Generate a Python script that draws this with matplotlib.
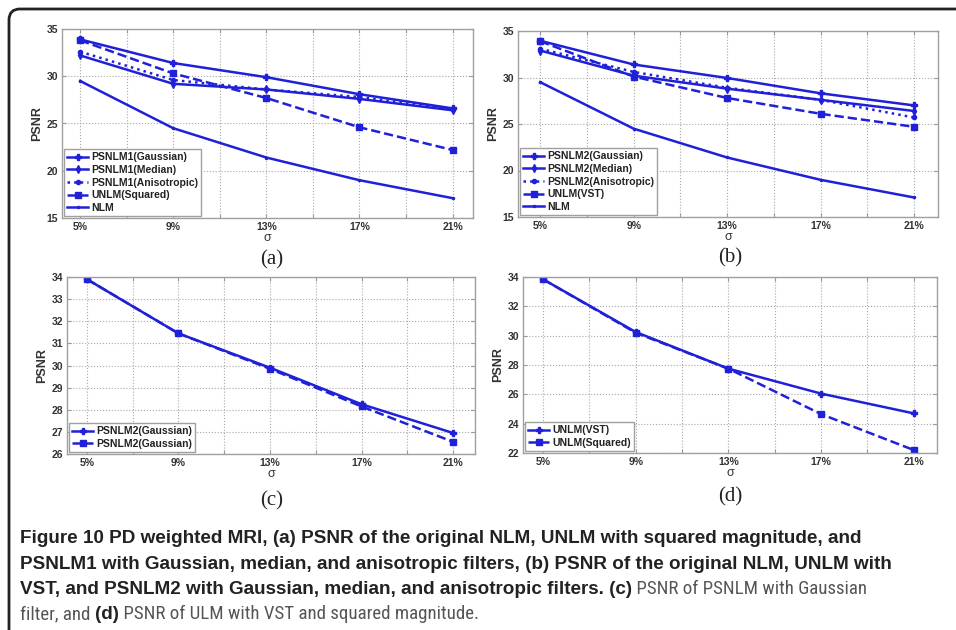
import matplotlib
matplotlib.use("Agg")
import matplotlib.pyplot as plt
from matplotlib.patches import FancyBboxPatch
from matplotlib.transforms import IdentityTransform

plt.rcParams['font.family'] = ['Liberation Sans', 'DejaVu Sans']

# noise levels (sigma) and tick labels
sigma = [5, 9, 13, 17, 21]
sigma_labels = ['5%', '9%', '13%', '17%', '21%']

# (a) PSNLM1 family
a_gauss = [33.9, 31.4, 29.9, 28.1, 26.6]
a_median = [32.2, 29.2, 28.6, 27.6, 26.4]
a_aniso = [32.6, 29.6, 28.6, 27.8, 26.5]
a_squared = [33.8, 30.3, 27.7, 24.6, 22.2]
nlm = [29.5, 24.5, 21.4, 19.0, 17.1]

# (b) PSNLM2 family
b_gauss = [33.95, 31.4, 29.95, 28.3, 27.0]
b_median = [32.9, 30.2, 28.8, 27.6, 26.4]
b_aniso = [33.1, 30.6, 28.9, 27.6, 25.7]
b_vst = [33.9, 30.1, 27.8, 26.1, 24.7]

# (c) PSNLM2 gaussian, two runs
c_first = [33.9, 31.45, 29.9, 28.25, 26.95]
c_second = [33.9, 31.45, 29.85, 28.15, 26.55]

# (d) UNLM
d_vst = [33.85, 30.25, 27.75, 26.05, 24.7]
d_squared = [33.85, 30.2, 27.75, 24.65, 22.2]

BLUE = '#2020d8'
W, H = 956, 630

fig = plt.figure(figsize=(W / 100, H / 100), dpi=100)


def px_axes(left, top, right, bottom):
    return fig.add_axes([left / W, 1 - bottom / H, (right - left) / W, (bottom - top) / H])


def style(ax, ylim, yticks, xlim):
    ax.set_xlim(*xlim)
    ax.set_ylim(*ylim)
    ax.set_xticks(range(5, 22, 2))
    ax.set_xticklabels(['5%', '', '9%', '', '13%', '', '17%', '', '21%'])
    ax.set_yticks(yticks)
    ax.set_yticklabels([str(v) for v in yticks])
    ax.grid(True, linestyle=':', color='#a8a8a8', linewidth=0.8)
    ax.tick_params(direction='in', length=3, color='#999999', labelsize=7.5,
                   labelcolor='#333333', pad=3, top=True, right=True)
    for lbl in ax.get_xticklabels() + ax.get_yticklabels():
        lbl.set_fontweight('bold')
    for sp in ax.spines.values():
        sp.set_color('#a0a0a0')
        sp.set_linewidth(1.0)
    ax.set_ylabel('PSNR', fontsize=9, fontweight='bold', color='#333333', labelpad=2)
    ax.set_xlabel('σ', fontsize=9, color='#333333', labelpad=0)


def legend(ax):
    leg = ax.legend(loc='lower left', prop={'weight': 'bold', 'size': 7.5},
                    handlelength=2.0, handletextpad=0.3, labelspacing=0.25,
                    borderaxespad=0.2, borderpad=0.3, fancybox=False,
                    framealpha=1, edgecolor='#a0a0a0')
    leg.get_frame().set_linewidth(1.0)
    for t in leg.get_texts():
        t.set_color('#222222')


lw = 1.8
serif = ['Liberation Serif', 'DejaVu Serif']

# (a)
ax = px_axes(62, 29, 473, 218)
ax.plot(sigma, a_gauss, '-', marker='P', ms=4, color=BLUE, lw=lw, label='PSNLM1(Gaussian)')
ax.plot(sigma, a_median, '-', marker='d', ms=4, color=BLUE, lw=lw, label='PSNLM1(Median)')
ax.plot(sigma, a_aniso, ':', marker='o', ms=3, color=BLUE, lw=lw, label='PSNLM1(Anisotropic)')
ax.plot(sigma, a_squared, '--', marker='s', ms=4, color=BLUE, lw=lw, label='UNLM(Squared)')
ax.plot(sigma, nlm, '-', marker='.', ms=3, color=BLUE, lw=lw, label='NLM')
style(ax, (15, 35), [15, 20, 25, 30, 35], (4.22, 21.88))
legend(ax)
fig.text(272 / W, 1 - 260 / H, '(a)', family=serif, fontsize=15, ha='center', va='center', color='#222222')

# (b)
ax = px_axes(518, 31, 938, 217)
ax.plot(sigma, b_gauss, '-', marker='P', ms=4, color=BLUE, lw=lw, label='PSNLM2(Gaussian)')
ax.plot(sigma, b_median, '-', marker='d', ms=4, color=BLUE, lw=lw, label='PSNLM2(Median)')
ax.plot(sigma, b_aniso, ':', marker='o', ms=3, color=BLUE, lw=lw, label='PSNLM2(Anisotropic)')
ax.plot(sigma, b_vst, '--', marker='s', ms=4, color=BLUE, lw=lw, label='UNLM(VST)')
ax.plot(sigma, nlm, '-', marker='.', ms=3, color=BLUE, lw=lw, label='NLM')
style(ax, (15, 35), [15, 20, 25, 30, 35], (4.05, 22.03))
legend(ax)
fig.text(730 / W, 1 - 258 / H, '(b)', family=serif, fontsize=15, ha='center', va='center', color='#222222')

# (c)
ax = px_axes(67, 277, 475, 454)
ax.plot(sigma, c_first, '-', marker='P', ms=4, color=BLUE, lw=lw, label='PSNLM2(Gaussian)')
ax.plot(sigma, c_second, '--', marker='s', ms=4, color=BLUE, lw=lw, label='PSNLM2(Gaussian)')
style(ax, (26, 34), list(range(26, 35)), (4.13, 21.96))
legend(ax)
fig.text(272 / W, 1 - 501 / H, '(c)', family=serif, fontsize=15, ha='center', va='center', color='#222222')

# (d)
ax = px_axes(523, 277, 937, 453)
ax.plot(sigma, d_vst, '-', marker='P', ms=4, color=BLUE, lw=lw, label='UNLM(VST)')
ax.plot(sigma, d_squared, '--', marker='s', ms=4, color=BLUE, lw=lw, label='UNLM(Squared)')
style(ax, (22, 34), list(range(22, 35, 2)), (4.14, 22.0))
legend(ax)
fig.text(730 / W, 1 - 497 / H, '(d)', family=serif, fontsize=15, ha='center', va='center', color='#222222')

# rounded frame around the figure panel
frame = FancyBboxPatch((9, -60), 1000, 621 + 60, boxstyle='round,pad=0,rounding_size=11',
                       transform=IdentityTransform(), fill=False, edgecolor='#222222',
                       linewidth=2.0)
fig.patches.append(frame)

# caption, built from runs of bold / regular text
bold_font = ['Liberation Sans', 'DejaVu Sans']
thin_font = ['Roboto Condensed', 'Liberation Sans Narrow', 'Lato', 'DejaVu Sans']
caption = [
    [('Figure 10 PD weighted MRI, (a) PSNR of the original NLM, UNLM with squared magnitude, and', 'bold')],
    [('PSNLM1 with Gaussian, median, and anisotropic filters, (b) PSNR of the original NLM, UNLM with', 'bold')],
    [('VST, and PSNLM2 with Gaussian, median, and anisotropic filters. (c)', 'bold'),
     (' PSNR of PSNLM with Gaussian', 'normal')],
    [('filter, and ', 'normal'), ('(d)', 'bold'),
     (' PSNR of ULM with VST and squared magnitude.', 'normal')],
]
baselines = [543, 569, 594, 619]

fig.canvas.draw()
renderer = fig.canvas.get_renderer()
for runs, base in zip(caption, baselines):
    x = 20
    for txt, weight in runs:
        if weight == 'bold':
            t = fig.text(x / W, 1 - base / H, txt, family=bold_font, fontsize=13.6,
                         fontweight='bold', color='#222222', ha='left', va='baseline')
        else:
            t = fig.text(x / W, 1 - base / H, txt, family=thin_font, fontsize=13.6,
                         color='#555555', ha='left', va='baseline')
        x += t.get_window_extent(renderer).width

fig.savefig('out.png', dpi=100)
